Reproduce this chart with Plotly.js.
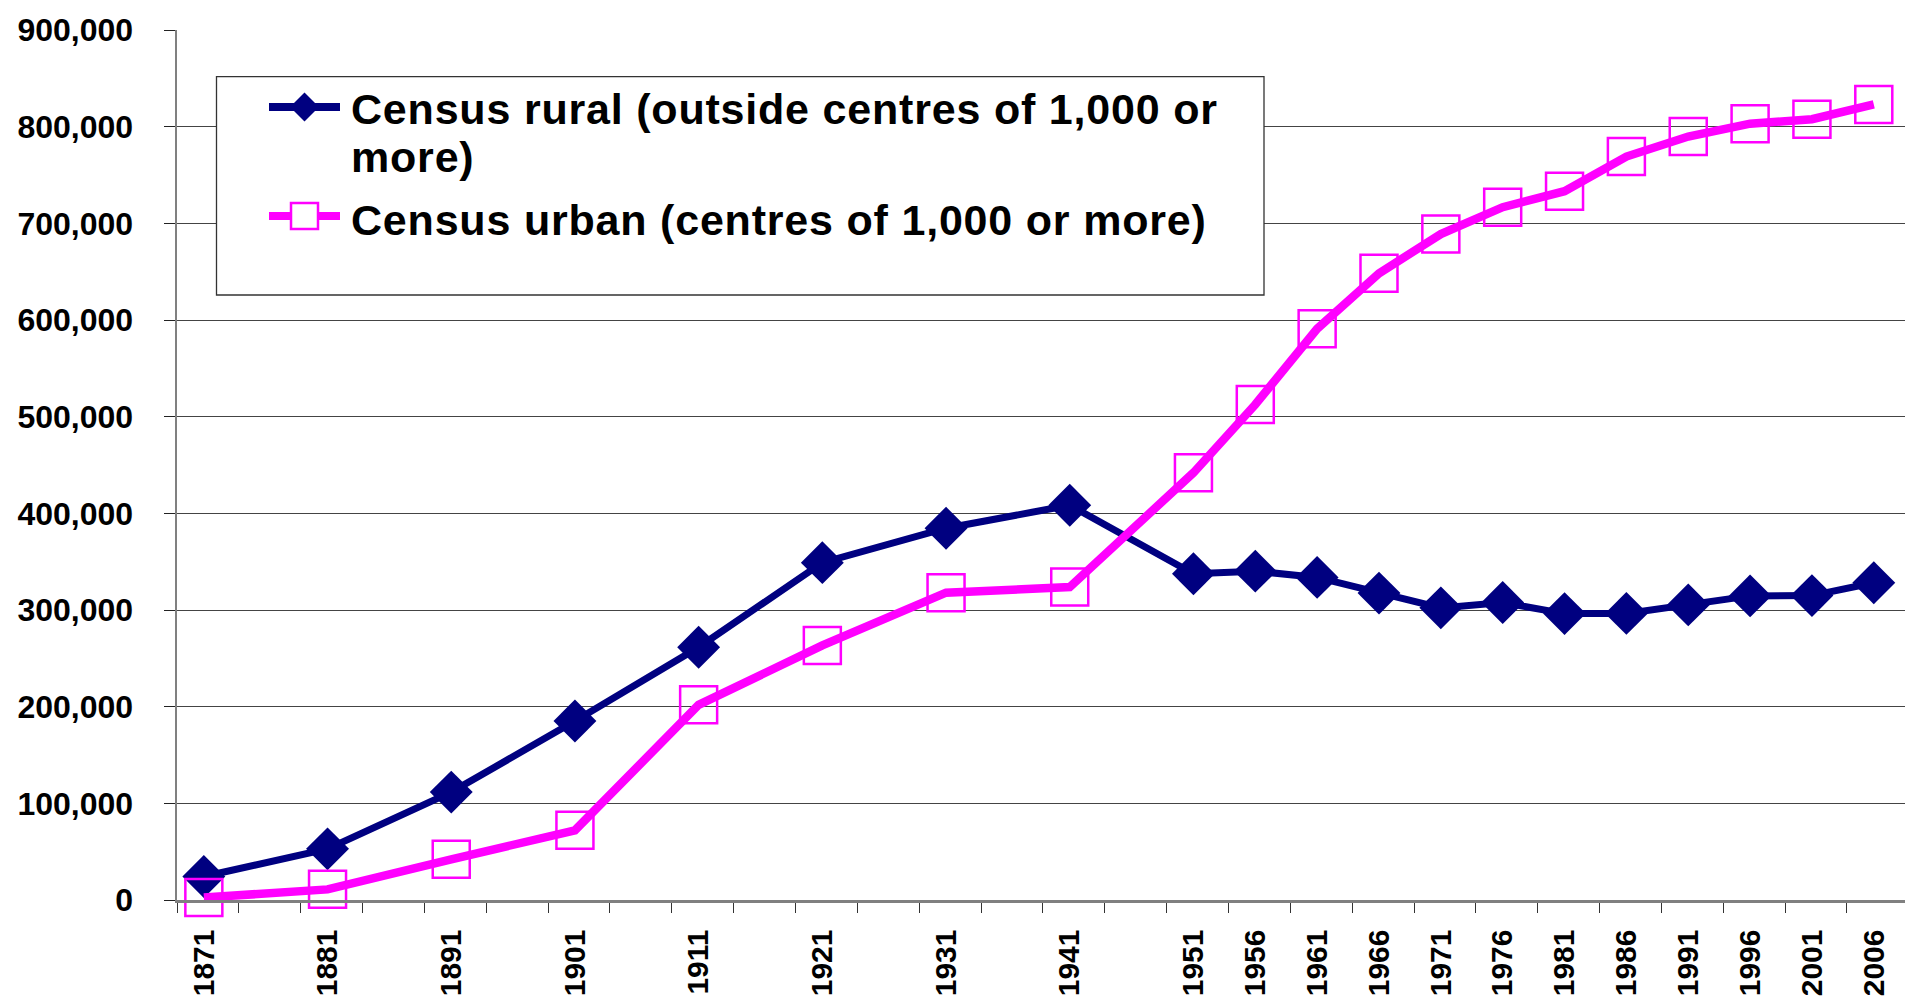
<!DOCTYPE html>
<html>
<head>
<meta charset="utf-8">
<script src="https://cdn.plot.ly/plotly-3.0.1.min.js"></script>
<style>
  html, body { margin: 0; padding: 0; background: #ffffff; }
  #chart { width: 1905px; height: 997px; }
  .annotation-text { letter-spacing: 0.8px; }
</style>
</head>
<body>
<div id="chart"></div>
<script>
// ---- data ----
const years = [1871, 1881, 1891, 1901, 1911, 1921, 1931, 1941, 1951, 1956, 1961, 1966, 1971, 1976, 1981, 1986, 1991, 1996, 2001, 2006];
const ruralValues = [24300, 52900, 111600, 185100, 261500, 349000, 384600, 408400, 337500, 340200, 333700, 317500, 302200, 307700, 296300, 296500, 305300, 314600, 314900, 328200];
const urbanValues = [2500, 11000, 42100, 72100, 201900, 263400, 317900, 323700, 442000, 512600, 590900, 648300, 688900, 716700, 733200, 769100, 789800, 803100, 807700, 823000];
const ruralNameLine1 = "Census rural (outside centres of 1,000 or";
const ruralNameLine2 = "more)";
const urbanName = "Census urban (centres of 1,000 or more)";
const yTickVals = [0, 100000, 200000, 300000, 400000, 500000, 600000, 700000, 800000, 900000];
const yTickText = ["0", "100,000", "200,000", "300,000", "400,000", "500,000", "600,000", "700,000", "800,000", "900,000"];
const xTickText = years.map(String);

// ---- layout geometry ----
const W = 1905, H = 997;
const M = { l: 177, r: 0, t: 30, b: 97 };
const plotW = W - M.l - M.r, plotH = H - M.t - M.b;
const px2x = p => (p - M.l) / plotW;
const py2y = p => (H - M.b - p) / plotH;

const FONT = "Liberation Sans, Arial, Helvetica, sans-serif";
const NAVY = "#000080", MAGENTA = "#FF00FF";

const traces = [
  {
    x: years, y: ruralValues, name: ruralNameLine1 + " " + ruralNameLine2, type: "scatter", mode: "lines+markers",
    line: { color: NAVY, width: 7 },
    marker: { symbol: "diamond", size: 33, color: NAVY, line: { width: 0 } },
    cliponaxis: false, showlegend: false
  },
  {
    x: years, y: urbanValues, name: urbanName, type: "scatter", mode: "lines+markers",
    line: { color: MAGENTA, width: 8.5 },
    marker: { symbol: "square-open", size: 37, color: MAGENTA, line: { width: 2.5, color: MAGENTA } },
    cliponaxis: false, showlegend: false
  }
];

// legend drawn as shapes + annotations
const lg = { x0: 216.5, x1: 1264, y0: 76.7, y1: 295 };
const sym = { x0: 269, x1: 340, yR: 107, yU: 216 };
const dC = (sym.x0 + sym.x1) / 2, dR = 14.5;
const diamondPath = "M" + px2x(dC) + "," + py2y(sym.yR - dR) +
  " L" + px2x(dC + dR) + "," + py2y(sym.yR) +
  " L" + px2x(dC) + "," + py2y(sym.yR + dR) +
  " L" + px2x(dC - dR) + "," + py2y(sym.yR) + " Z";

const shapes = [
  { type: "rect", xref: "paper", yref: "paper", layer: "above",
    x0: px2x(lg.x0), x1: px2x(lg.x1), y0: py2y(lg.y1), y1: py2y(lg.y0),
    line: { color: "#333333", width: 1.3 }, fillcolor: "#ffffff" },
  { type: "line", xref: "paper", yref: "paper", layer: "above",
    x0: px2x(sym.x0), x1: px2x(sym.x1), y0: py2y(sym.yR), y1: py2y(sym.yR),
    line: { color: NAVY, width: 8 } },
  { type: "path", xref: "paper", yref: "paper", layer: "above",
    path: diamondPath, fillcolor: NAVY, line: { width: 0 } },
  { type: "line", xref: "paper", yref: "paper", layer: "above",
    x0: px2x(sym.x0), x1: px2x(sym.x1), y0: py2y(sym.yU), y1: py2y(sym.yU),
    line: { color: MAGENTA, width: 8 } },
  { type: "rect", xref: "paper", yref: "paper", layer: "above",
    x0: px2x(dC - 13.5), x1: px2x(dC + 13.5), y0: py2y(sym.yU + 13), y1: py2y(sym.yU - 13),
    fillcolor: "#ffffff", line: { color: MAGENTA, width: 2.5 } }
];

const legendFont = { family: FONT, size: 43, color: "#000000", weight: 700 };
const annotations = [
  { xref: "paper", yref: "paper", x: px2x(349), y: py2y(109), xanchor: "left", yanchor: "middle",
    align: "left", showarrow: false, text: ruralNameLine1, font: legendFont },
  { xref: "paper", yref: "paper", x: px2x(349), y: py2y(157), xanchor: "left", yanchor: "middle",
    align: "left", showarrow: false, text: ruralNameLine2, font: legendFont },
  { xref: "paper", yref: "paper", x: px2x(349), y: py2y(220), xanchor: "left", yanchor: "middle",
    align: "left", showarrow: false, text: urbanName, font: legendFont }
];

const layout = {
  width: W, height: H,
  margin: M,
  paper_bgcolor: "#ffffff", plot_bgcolor: "#ffffff",
  showlegend: false,
  font: { family: FONT, color: "#000000" },
  xaxis: {
    type: "linear",
    range: [1868.83, 1868.83 + plotW / 12.37],
    tickmode: "array", tickvals: years, ticktext: xTickText,
    tickangle: -90,
    ticks: "",
    tickfont: { family: FONT, size: 30, color: "#000000", weight: 700 },
    ticklabelstandoff: 15,
    showgrid: false, zeroline: false,
    showline: true, linecolor: "#808080", linewidth: 2.5,
    minor: { tickmode: "linear", tick0: 1868.83, dtick: 5, ticks: "outside", ticklen: 10, tickwidth: 1, tickcolor: "#333333", showgrid: false },
    automargin: false, fixedrange: true
  },
  yaxis: {
    range: [0, 900000],
    tickmode: "array", tickvals: yTickVals, ticktext: yTickText,
    ticks: "outside", ticklen: 11, tickwidth: 1, tickcolor: "#222222",
    tickfont: { family: FONT, size: 32, color: "#000000", weight: 700 },
    ticklabelstandoff: 24,
    showgrid: true, gridcolor: "#444444", gridwidth: 1,
    zeroline: false,
    showline: true, linecolor: "#808080", linewidth: 2.5,
    automargin: false, fixedrange: true
  },
  shapes: shapes,
  annotations: annotations
};

Plotly.newPlot("chart", traces, layout, { displayModeBar: false, staticPlot: true });
</script>
</body>
</html>
